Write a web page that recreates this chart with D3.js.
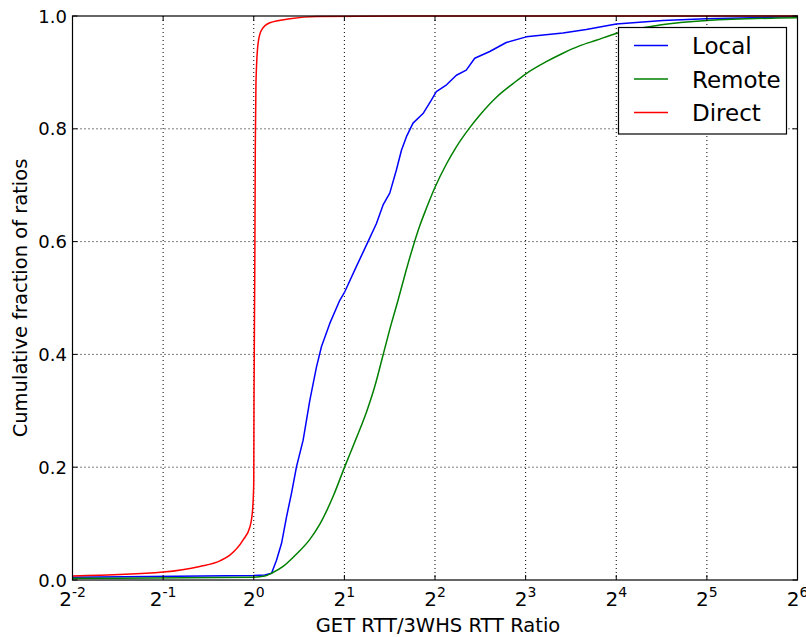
<!DOCTYPE html>
<html><head><meta charset="utf-8">
<script src="https://cdn.jsdelivr.net/npm/d3@7"></script>
<style>body{margin:0;background:#fff}svg{display:block}text{font-family:"DejaVu Sans",sans-serif}</style>
</head><body><svg id="c" width="806" height="637"></svg>
<script>
const xTickExps = [-2,-1,0,1,2,3,4,5,6];
const yTicks = [0,0.2,0.4,0.6,0.8,1.0];
const seriesNames = ["Local","Remote","Direct"];
const seriesColors = ["#0000ff","#008000","#ff0000"];

const localX = [0.25,1.0,1.088,1.146,1.19,1.237,1.285,1.335,1.387,1.459,1.536,1.616,1.679,1.789,1.931,2.006,2.193,2.397,2.556,2.689,2.83,2.977,3.095,3.215,3.381,3.65,3.89,4.04,4.37,4.71,5.08,5.42,6.08,6.9,8.04,10.64,12.72,16.0,22.85,31.8,64];
const localY = [0.005,0.008,0.009,0.012,0.035,0.065,0.112,0.154,0.201,0.248,0.319,0.378,0.414,0.455,0.496,0.511,0.556,0.6,0.632,0.665,0.686,0.727,0.762,0.786,0.81,0.827,0.851,0.866,0.878,0.895,0.904,0.925,0.937,0.953,0.963,0.97,0.976,0.986,0.992,0.995,0.999];

const remoteX = [0.25,1.0,1.088,1.146,1.252,1.387,1.536,1.658,1.834,2.006,2.193,2.369,2.523,2.689,2.866,3.015,3.2,3.381,3.56,3.745,3.99,4.37,4.71,5.22,5.63,6.4,7.26,8.04,9.37,10.64,12.08,13.73,16,22.3,32,64];
const remoteY = [0.003,0.005,0.007,0.012,0.024,0.046,0.072,0.099,0.148,0.201,0.252,0.298,0.343,0.399,0.455,0.496,0.547,0.591,0.628,0.659,0.695,0.738,0.768,0.802,0.824,0.856,0.880,0.898,0.919,0.934,0.947,0.957,0.969,0.984,0.992,0.997];

const directX = [0.25,0.5,0.662,0.772,0.833,0.922,0.971,0.991,1.0,1.002,1.008,1.012,1.017,1.034,1.061,1.131,1.318,1.616,4,64];
const directY = [0.007,0.014,0.024,0.034,0.044,0.071,0.094,0.124,0.172,0.32,0.55,0.768,0.881,0.952,0.975,0.988,0.995,0.999,1.0,1.0];

const L=72.5,R=797.5,T=16,B=580;
const svg=d3.select("#c");
const x=d3.scaleLog().base(2).domain([0.25,64]).range([L,R]);
const y=d3.scaleLinear().domain([0,1]).range([B,T]);

// grid
const g=svg.append("g");
xTickExps.forEach(e=>{const px=x(Math.pow(2,e));
  if(e>-2&&e<6) g.append("line").attr("x1",px).attr("x2",px).attr("y1",T).attr("y2",B).attr("stroke","#000").attr("stroke-width",1).attr("stroke-dasharray","1,3");});
yTicks.forEach(v=>{const py=y(v);
  if(v>0&&v<1) g.append("line").attr("x1",L).attr("x2",R).attr("y1",py).attr("y2",py).attr("stroke","#000").attr("stroke-width",1).attr("stroke-dasharray","1,3");});

// series
const sets=[[localX,localY],[remoteX,remoteY],[directX,directY]];
const line=d3.line().x(d=>x(d[0])).y(d=>y(d[1])).curve(d3.curveMonotoneX);
const lineLin=d3.line().x(d=>x(d[0])).y(d=>y(d[1]));
sets.forEach((s,i)=>{
  const pts=s[0].map((v,j)=>[v,s[1][j]]);
  svg.append("path").datum(pts).attr("d",i===0?lineLin:line).attr("fill","none").attr("stroke",seriesColors[i]).attr("stroke-width",1.5).attr("stroke-linejoin","round");
});

// frame
svg.append("rect").attr("x",L).attr("y",T).attr("width",R-L).attr("height",B-T).attr("fill","none").attr("stroke","#000").attr("stroke-width",1.2);

// ticks
xTickExps.forEach(e=>{const px=x(Math.pow(2,e));
  svg.append("line").attr("x1",px).attr("x2",px).attr("y1",B).attr("y2",B-5).attr("stroke","#000");
  svg.append("line").attr("x1",px).attr("x2",px).attr("y1",T).attr("y2",T+5).attr("stroke","#000");
  const t=svg.append("text").attr("x",px).attr("y",606).attr("text-anchor","middle").attr("font-size",20);
  t.append("tspan").text("2");
  t.append("tspan").attr("dy",-9).attr("font-size",14).text(String(e));
});
yTicks.forEach(v=>{const py=y(v);
  svg.append("line").attr("x1",L).attr("x2",L+5).attr("y1",py).attr("y2",py).attr("stroke","#000");
  svg.append("line").attr("x1",R).attr("x2",R-5).attr("y1",py).attr("y2",py).attr("stroke","#000");
  svg.append("text").attr("x",67).attr("y",py+6.5).attr("text-anchor","end").attr("font-size",18).text(v.toFixed(1));
});

svg.append("text").attr("x",438).attr("y",632).attr("text-anchor","middle").attr("font-size",19.5).text("GET RTT/3WHS RTT Ratio");
svg.append("text").attr("transform","translate(27,298) rotate(-90)").attr("text-anchor","middle").attr("font-size",19.5).text("Cumulative fraction of ratios");

// legend
const lg=svg.append("g");
lg.append("rect").attr("x",618.5).attr("y",27.5).attr("width",168).attr("height",106.5).attr("fill","#fff").attr("stroke","#000").attr("stroke-width",1.2);
seriesNames.forEach((n,i)=>{const ly=45.5+i*33.5;
  lg.append("line").attr("x1",634).attr("x2",668).attr("y1",ly).attr("y2",ly).attr("stroke",seriesColors[i]).attr("stroke-width",1.5);
  lg.append("text").attr("x",692).attr("y",ly+8.5).attr("font-size",23).text(n);
});
</script></body></html>
